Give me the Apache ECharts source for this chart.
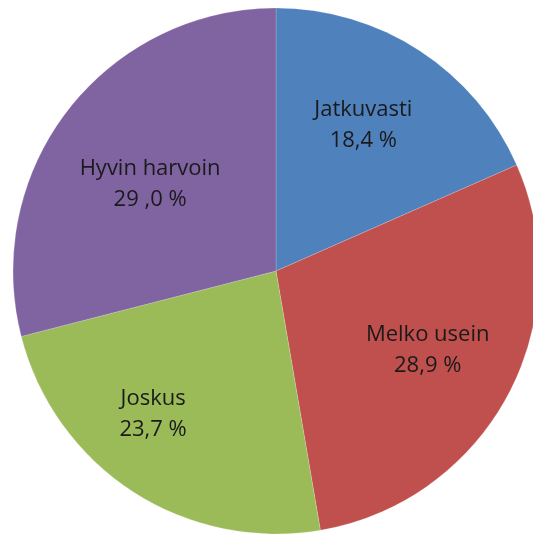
<!DOCTYPE html>
<html>
<head>
<meta charset="utf-8">
<script src="https://cdn.jsdelivr.net/npm/echarts@6/dist/echarts.min.js"></script>
<style>
  html, body { margin: 0; padding: 0; background: #fff; }
  #chart { width: 533px; height: 536px; }
</style>
</head>
<body>
<div id="chart"></div>
<script>
// slices, clockwise from 12 o'clock
const categories = ['Jatkuvasti', 'Melko usein', 'Joskus', 'Hyvin harvoin'];
const shares = [18.4, 28.9, 23.7, 29.0];
const shareLabels = ['18,4 %', '28,9 %', '23,7 %', '29 ,0 %'];
const colors = ['#4F81BD', '#C0504D', '#9BBB59', '#8064A2'];

// small nudges so the labels sit where the original chart put them
const labelNudge = [[-8, 0], [-2, -3], [-28, -3], [12, 20]];

const pieData = categories.map((name, i) => ({
  name: name,
  value: shares[i],
  itemStyle: { color: colors[i] }
}));

const myChart = echarts.init(document.getElementById('chart'));

const option = {
  animation: false,
  series: [
    {
      // the pie itself
      type: 'pie',
      center: [276, 271],
      radius: [0, 263],
      startAngle: 90,
      clockwise: true,
      silent: true,
      label: { show: false },
      labelLine: { show: false },
      itemStyle: { borderColor: 'rgba(255,255,255,0.35)', borderWidth: 0.5 },
      data: pieData
    },
    {
      // transparent ring, only carries the labels further out than the default
      type: 'pie',
      center: [276, 271],
      radius: [80, 263],
      startAngle: 90,
      clockwise: true,
      silent: true,
      itemStyle: { color: 'transparent' },
      label: {
        show: true,
        position: 'inside',
        fontFamily: 'Open Sans',
        fontSize: 22,
        lineHeight: 31,
        color: '#1a1a1a',
        formatter: p => p.name + '\n' + shareLabels[p.dataIndex]
      },
      labelLine: { show: false },
      data: categories.map((name, i) => ({
        name: name,
        value: shares[i],
        label: { offset: labelNudge[i] }
      }))
    }
  ]
};

option && myChart.setOption(option);
</script>
</body>
</html>
